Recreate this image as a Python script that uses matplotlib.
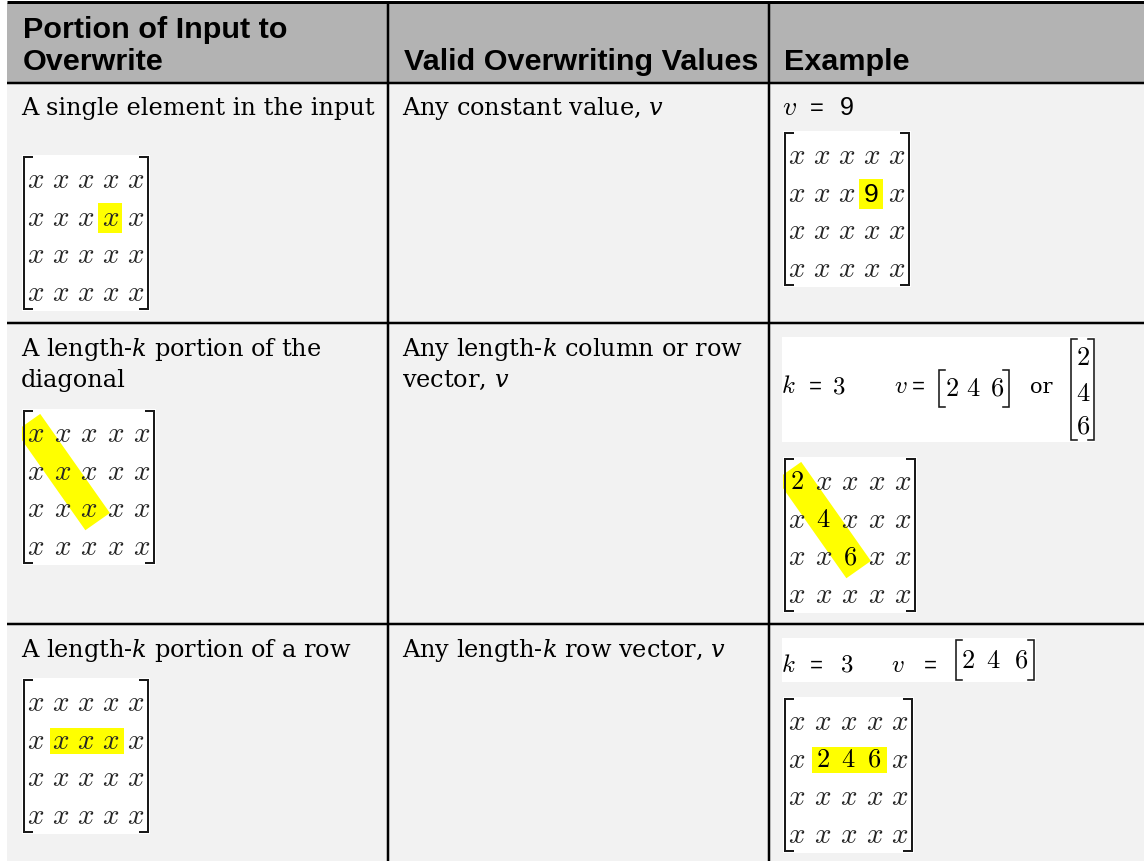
import matplotlib
matplotlib.use("Agg")
import matplotlib.pyplot as plt
from matplotlib.patches import Rectangle, Polygon
import numpy as np

# ---------------- data ----------------
header_col1 = ["Portion of Input to", "Overwrite"]
header_col2 = ["Valid Overwriting Values"]
header_col3 = ["Example"]
portion_text = [["A single element in the input"],
                ["A length-$k$ portion of the", "diagonal"],
                ["A length-$k$ portion of a row"]]
value_text = [["Any constant value, $v$"],
              ["Any length-$k$ column or row", "vector, $v$"],
              ["Any length-$k$ row vector, $v$"]]
highlight_kind = ["cell", "diag", "row"]
highlight_cells = [[(1, 3)], [(0, 0), (1, 1), (2, 2)], [(1, 1), (1, 2), (1, 3)]]
example_k = [None, 3, 3]
example_v = [[9], [2, 4, 6], [2, 4, 6]]
matrix_rows, matrix_cols = 4, 5

# ---------------- layout ----------------
FW, FH = 1144, 861
col_edges = [7, 388, 769, 1144]
header_top, header_bottom = 3, 83
row_edges = [83, 323, 624, 861]
pad_x = [21, 402, 782]
header_baselines = [[38, 70], [70], [70]]
text_baselines = [[115], [356, 387], [657]]
input_mat_top = [155, 409, 678]
input_mat_w = [128, 134, 128]
example_mat_top = [131, 457, 697]
example_mat_w = [128, 134, 131]
mat_h = 156

HEADER_BG = "#b3b3b3"
BODY_BG = "#f2f2f2"
YELLOW = "#ffff00"
XCOL = "#262626"

fig = plt.figure(figsize=(FW / 100, FH / 100), dpi=100)
ax = fig.add_axes([0, 0, 1, 1])
ax.set_xlim(0, FW)
ax.set_ylim(FH, 0)
ax.axis("off")
renderer = fig.canvas.get_renderer()

PX = 0.72  # points per pixel


def fit_size(s, target_px, **kw):
    t = ax.text(0, 0, s, fontsize=20, **kw)
    w = t.get_window_extent(renderer).width
    t.remove()
    return 20 * target_px / w


HFONT = dict(family="Liberation Sans", weight="bold")
BFONT = dict(family="DejaVu Serif", math_fontfamily="dejavuserif")
h_fs = fit_size(header_col2[0], 353, **HFONT)
b_fs = fit_size(portion_text[0][0], 351, **BFONT)

# backgrounds
ax.add_patch(Rectangle((col_edges[0], header_top), FW - col_edges[0], header_bottom - header_top,
                       facecolor=HEADER_BG, edgecolor="none", zorder=0))
ax.add_patch(Rectangle((col_edges[0], header_bottom), FW - col_edges[0], FH - header_bottom,
                       facecolor=BODY_BG, edgecolor="none", zorder=0))
# rules
ax.plot([col_edges[0], FW], [2, 2], color="black", lw=3 * PX, solid_capstyle="butt", zorder=5)
for y in row_edges[:-1]:
    ax.plot([col_edges[0], FW], [y, y], color="black", lw=2.5 * PX, solid_capstyle="butt", zorder=5)
for x in col_edges[1:-1]:
    ax.plot([x, x], [header_top, FH], color="black", lw=2.5 * PX, solid_capstyle="butt", zorder=5)

# header text
for c, lines in enumerate([header_col1, header_col2, header_col3]):
    for s, yb in zip(lines, header_baselines[c]):
        ax.text(pad_x[c] + 2, yb, s, fontsize=h_fs, va="baseline", ha="left", color="black", **HFONT)

# body text
for r in range(3):
    for s, yb in zip(portion_text[r], text_baselines[r]):
        ax.text(pad_x[0], yb, s, fontsize=b_fs, va="baseline", ha="left", **BFONT)
    for s, yb in zip(value_text[r], text_baselines[r]):
        ax.text(pad_x[1], yb, s, fontsize=b_fs, va="baseline", ha="left", **BFONT)


def bracket(xl, xr, yt, yb, serif=8, lw=2.0, color="#1a1a1a"):
    ax.plot([xl + serif, xl, xl, xl + serif], [yt, yt, yb, yb], color=color, lw=lw * PX,
            solid_joinstyle="miter", zorder=4)
    ax.plot([xr - serif, xr, xr, xr - serif], [yt, yt, yb, yb], color=color, lw=lw * PX,
            solid_joinstyle="miter", zorder=4)


def draw_matrix(x0, y0, w, h, entries, kind, cells, num_font):
    box = Rectangle((x0, y0), w, h, facecolor="white", edgecolor="none", zorder=1)
    ax.add_patch(box)
    cx = lambda j: x0 + 14 + j * (w - 28) / (matrix_cols - 1)
    cy = lambda i: y0 + 25 + i * (h - 43) / (matrix_rows - 1)
    if kind == "cell":
        for (i, j) in cells:
            ax.add_patch(Rectangle((cx(j) - 13, cy(i) - 15), 24, 30, facecolor=YELLOW,
                                   edgecolor="none", zorder=2))
    elif kind == "row":
        i = cells[0][0]
        j0, j1 = cells[0][1], cells[-1][1]
        ax.add_patch(Rectangle((cx(j0) - 11, cy(i) - 13), cx(j1) - cx(j0) + 24, 26,
                               facecolor=YELLOW, edgecolor="none", zorder=2))
    elif kind == "diag":
        p0 = np.array([cx(cells[0][1]), cy(cells[0][0])])
        p1 = np.array([cx(cells[-1][1]), cy(cells[-1][0])])
        d = (p1 - p0) / np.linalg.norm(p1 - p0)
        n = np.array([-d[1], d[0]])
        a, b = p0 - 14 * d, p1 + 15 * d
        hw = 15
        poly = Polygon([a + hw * n, b + hw * n, b - hw * n, a - hw * n], closed=True,
                       facecolor=YELLOW, edgecolor="none", zorder=2)
        ax.add_patch(poly)
        poly.set_clip_path(box)
    for i in range(matrix_rows):
        for j in range(matrix_cols):
            e = entries[i][j]
            if e == "x":
                ax.text(cx(j), cy(i), "$x$", ha="center", va="center", fontsize=21,
                        math_fontfamily="cm", color=XCOL, zorder=3)
            elif num_font == "sans":
                ax.text(cx(j) - 1, cy(i) + 1, e, ha="center", va="center", fontsize=19,
                        family="Liberation Sans", color="black", zorder=3)
            else:
                ax.text(cx(j), cy(i), "$%s$" % e, ha="center", va="center", fontsize=19,
                        math_fontfamily="cm", color="black", zorder=3)
    bracket(x0 + 2, x0 + w - 2, y0 + 2, y0 + h - 2)


num_fonts = ["sans", "cm", "cm"]
for r in range(3):
    base = [["x"] * matrix_cols for _ in range(matrix_rows)]
    draw_matrix(pad_x[0] + 1, input_mat_top[r], input_mat_w[r], mat_h, base,
                highlight_kind[r], highlight_cells[r], num_fonts[r])
    ex = [row[:] for row in base]
    for (i, j), v in zip(highlight_cells[r], example_v[r]):
        ex[i][j] = str(v)
    draw_matrix(pad_x[2] + 1, example_mat_top[r], example_mat_w[r], mat_h, ex,
                highlight_kind[r], highlight_cells[r], num_fonts[r])

# example first lines
MF = dict(math_fontfamily="cm", va="baseline", ha="center", zorder=3)
EQF = dict(family="Liberation Sans", fontsize=16, va="baseline", ha="center", zorder=3)
EQ = 18
# row 0: v = 9
ax.text(782, 115, "$v$", fontsize=20, math_fontfamily="cm", va="baseline", ha="left")
ax.text(810, 115, "=", fontsize=17, family="Liberation Sans", va="baseline", ha="left")
ax.text(840, 115, str(example_v[0][0]), fontsize=18, family="Liberation Sans",
        va="baseline", ha="left")

# row 1: k = 3  v = [2 4 6] or column
ax.add_patch(Rectangle((782, 337), 313, 105, facecolor="white", edgecolor="none", zorder=1))
yb = 393
ax.text(788, yb, "$k$", fontsize=EQ, **MF)
ax.text(815, yb, "=", **EQF)
ax.text(839, yb, "$%d$" % example_k[1], fontsize=EQ, **MF)
ax.text(901, yb, "$v$", fontsize=EQ, **MF)
ax.text(918, yb, "=", **EQF)
bracket(939, 1009, 370, 407, serif=6, lw=1.6)
for xc, v in zip([952, 973, 997], example_v[1]):
    ax.text(xc, 389, "$%d$" % v, fontsize=19, math_fontfamily="cm", ha="center", va="center", zorder=3)
ax.text(1030, yb, "or", fontsize=15, family="DejaVu Serif", va="baseline", ha="left", zorder=3)
bracket(1071, 1094, 339, 440, serif=6, lw=1.6)
for yc, v in zip([358, 394, 427], example_v[1]):
    ax.text(1083, yc, "$%d$" % v, fontsize=19, math_fontfamily="cm", ha="center", va="center", zorder=3)

# row 2: k = 3  v = [2 4 6]
ax.add_patch(Rectangle((782, 638), 254, 44, facecolor="white", edgecolor="none", zorder=1))
yb = 672
ax.text(788, yb, "$k$", fontsize=EQ, **MF)
ax.text(816, yb, "=", **EQF)
ax.text(847, yb, "$%d$" % example_k[2], fontsize=EQ, **MF)
ax.text(898, yb, "$v$", fontsize=EQ, **MF)
ax.text(930, yb, "=", **EQF)
bracket(956, 1034, 640, 680, serif=6, lw=1.6)
for xc, v in zip([968, 993, 1021], example_v[2]):
    ax.text(xc, 661, "$%d$" % v, fontsize=19, math_fontfamily="cm", ha="center", va="center", zorder=3)

fig.savefig("out.png", dpi=100, facecolor="white")
